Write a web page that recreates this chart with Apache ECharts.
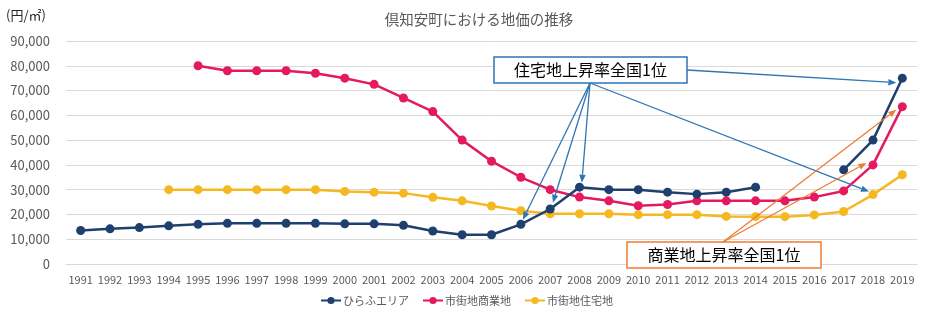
<!DOCTYPE html>
<html><head><meta charset="utf-8">
<script src="https://cdn.jsdelivr.net/npm/echarts@6/dist/echarts.min.js"></script>
<style>html,body{margin:0;padding:0;background:#fff}#c{width:933px;height:324px}</style>
</head><body><div id="c"></div>
<script>
const years = ['1991','1992','1993','1994','1995','1996','1997','1998','1999','2000','2001','2002','2003','2004','2005','2006','2007','2008','2009','2010','2011','2012','2013','2014','2015','2016','2017','2018','2019'];
const hirafu = [13500,14200,14700,15400,16000,16400,16400,16400,16400,16200,16200,15600,13300,11800,11800,16000,22200,31000,30000,30000,29000,28200,29000,31000,null,null,38000,50000,75000];
const shogyo = [null,null,null,null,80000,78000,78000,78000,77000,75000,72500,67000,61500,50000,41500,35000,30000,27000,25500,23500,24000,25500,25500,25500,25500,27000,29500,40000,63500];
const jutaku = [null,null,null,30000,30000,30000,30000,30000,30000,29300,29000,28600,26900,25500,23400,21500,20300,20300,20300,19900,19900,19900,19200,19100,19100,19800,21200,28000,36000];
const seriesNames = ['ひらふエリア','市街地商業地','市街地住宅地'];
const colors = ['#1F3F6E','#E5195F','#F5B820'];
const titleText = '倶知安町における地価の推移';
const unitText = '(円/㎡)';
const boxJutaku = '住宅地上昇率全国1位';
const boxShogyo = '商業地上昇率全国1位';

const FONT = '"Noto Sans CJK JP", "Noto Sans", sans-serif';
const chart = echarts.init(document.getElementById('c'), null, {renderer: 'canvas'});
const datas = [hirafu, shogyo, jutaku];

chart.setOption({
  animation: false,
  textStyle: {fontFamily: FONT},
  title: {text: titleText, left: 474, top: 7, textAlign: 'center',
    textStyle: {fontSize: 14.5, fontWeight: 'normal', color: '#595959', fontFamily: FONT}},
  grid: {left: 66, right: 16, top: 41, bottom: 60},
  legend: {
    bottom: 13, left: 'center', itemWidth: 20, itemHeight: 9, itemGap: 13,
    textStyle: {fontSize: 11, color: '#595959', fontFamily: FONT, padding: [0,0,0,-3]},
    data: seriesNames
  },
  xAxis: {type: 'category', data: years, boundaryGap: true,
    axisLine: {show: true, lineStyle: {color: '#D9D9D9'}}, axisTick: {show: false},
    axisLabel: {fontSize: 11, color: '#595959', margin: 10, interval: 0, fontFamily: FONT}},
  yAxis: {type: 'value', min: 0, max: 90000, interval: 10000,
    axisLine: {show: false}, axisTick: {show: false},
    splitLine: {lineStyle: {color: '#D9D9D9', width: 1}},
    axisLabel: {fontSize: 13, color: '#595959', margin: 16, fontFamily: FONT,
      formatter: v => v.toLocaleString('en-US')}},
  series: seriesNames.map((n, i) => ({
    name: n, type: 'line', data: datas[i], symbol: 'circle', symbolSize: 9,
    connectNulls: false, lineStyle: {width: 2.5, color: colors[i]},
    itemStyle: {color: colors[i]}, z: 3 + (2 - i)
  }))
});

function px(i, year) {
  const idx = years.indexOf(year);
  return chart.convertToPixel({xAxisIndex: 0, yAxisIndex: 0}, [year, datas[i][idx]]);
}
function arrow(p0, tip, color) {
  const dx = tip[0] - p0[0], dy = tip[1] - p0[1];
  const L = Math.hypot(dx, dy), ux = dx / L, uy = dy / L;
  const len = 8, hw = 3.2;
  const bx = tip[0] - ux * len, by = tip[1] - uy * len;
  return [
    {type: 'line', z: 20, shape: {x1: p0[0], y1: p0[1], x2: bx, y2: by}, style: {stroke: color, lineWidth: 1.3}},
    {type: 'polygon', z: 20, shape: {points: [tip, [bx - uy * hw, by + ux * hw], [bx + uy * hw, by - ux * hw]]}, style: {fill: color}}
  ];
}
const blue = '#2E75B6', orange = '#ED7D31';
const g = [];
const s1 = [590, 83];
[[0,'2006',[2,-4.7]],[0,'2007',[2.7,-6.3]],[0,'2008',[2.3,-4.5]],[2,'2018',[-4,-3]]].forEach(([i,y,o]) => {
  const p = px(i, y); g.push(...arrow(s1, [p[0]+o[0], p[1]+o[1]], blue));
});
{ const p = px(0, '2019'); g.push(...arrow([687, 70], [p[0]-6, p[1]+4.5], blue)); }
const s2 = [723, 242];
[[1,'2018',[-6.5,-2]],[1,'2019',[-6,3]]].forEach(([i,y,o]) => {
  const p = px(i, y); g.push(...arrow(s2, [p[0]+o[0], p[1]+o[1]], orange));
});
g.push({type: 'rect', z: 30, shape: {x: 494, y: 57, width: 193, height: 26}, style: {fill: '#fff', stroke: blue, lineWidth: 1.5}});
g.push({type: 'text', z: 31, x: 590.5, y: 70, style: {text: boxJutaku, fontSize: 16, fontFamily: FONT, fill: '#000', align: 'center', verticalAlign: 'middle'}});
g.push({type: 'rect', z: 30, shape: {x: 627, y: 242, width: 194, height: 26}, style: {fill: '#fff', stroke: orange, lineWidth: 1.5}});
g.push({type: 'text', z: 31, x: 724, y: 255, style: {text: boxShogyo, fontSize: 16, fontFamily: FONT, fill: '#000', align: 'center', verticalAlign: 'middle'}});
g.push({type: 'text', z: 31, x: 6, y: 15, style: {text: unitText, fontSize: 13, fontFamily: FONT, fill: '#262626', verticalAlign: 'middle'}});
chart.setOption({graphic: g});
</script></body></html>
